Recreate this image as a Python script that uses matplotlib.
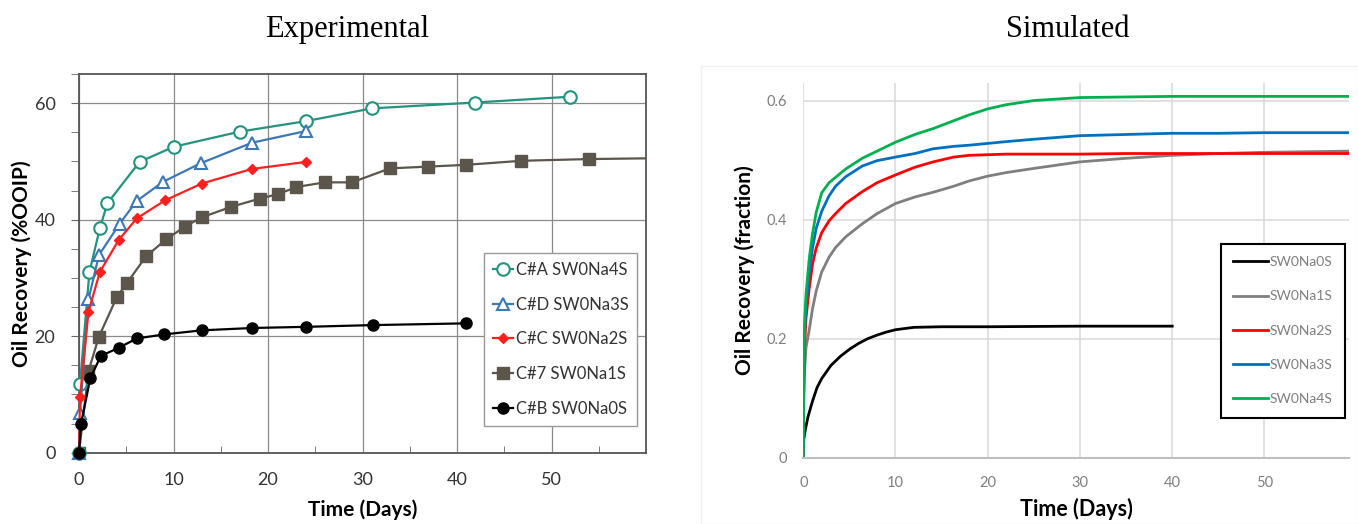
import numpy as np
import matplotlib
matplotlib.use("Agg")
import matplotlib.pyplot as plt
from matplotlib.ticker import MultipleLocator, FixedLocator

plt.rcParams['font.family'] = ['Lato', 'DejaVu Sans']

# Experimental core data (time in days, recovery in %OOIP)
t_a = [0, 0.1, 1.1, 2.2, 3.0, 6.4, 10.0, 17.0, 24.0, 31.0, 41.9, 52.0]
r_a = [0, 11.8, 31.0, 38.5, 42.8, 49.9, 52.5, 55.1, 56.9, 59.1, 60.1, 61.1]

t_d = [0, 0.1, 1.0, 2.1, 4.3, 6.1, 8.9, 12.9, 18.3, 24.0]
r_d = [0, 6.8, 26.3, 33.9, 39.3, 43.2, 46.5, 49.7, 53.2, 55.2]

t_c = [0, 0.1, 1.0, 2.2, 4.2, 6.1, 9.1, 13.0, 18.3, 24.0]
r_c = [0, 9.5, 24.2, 31.0, 36.5, 40.2, 43.3, 46.2, 48.7, 49.9]

t_7 = [0, 1.0, 2.1, 4.0, 5.1, 7.1, 9.2, 11.2, 13.0, 16.1, 19.1, 21.1, 23.0,
       26.0, 28.9, 32.9, 36.9, 40.9, 46.8, 54.0, 64.0]
r_7 = [0, 14.0, 19.9, 26.7, 29.2, 33.7, 36.6, 38.8, 40.4, 42.2, 43.6, 44.4, 45.6,
       46.4, 46.4, 48.8, 49.1, 49.4, 50.1, 50.4, 50.6]

t_b = [0, 0.2, 1.2, 2.3, 4.2, 6.1, 9.0, 13.0, 18.3, 24.0, 31.1, 41.0]
r_b = [0, 4.9, 12.8, 16.6, 18.0, 19.6, 20.3, 21.0, 21.4, 21.6, 21.9, 22.2]

exp_labels = ['C#A SW0Na4S', 'C#D SW0Na3S', 'C#C SW0Na2S', 'C#7 SW0Na1S', 'C#B SW0Na0S']

# Simulated recovery (fraction)
sim_t0 = [0, 0.05, 0.2, 0.5, 1, 1.5, 2, 3, 4, 5, 6, 7, 8, 9, 10, 12, 15, 20, 30, 40]
sim_r0 = [0, 0.03, 0.045, 0.068, 0.095, 0.118, 0.133, 0.155, 0.170, 0.182, 0.192,
          0.200, 0.206, 0.211, 0.215, 0.219, 0.220, 0.220, 0.221, 0.221]

sim_t = [0, 0.05, 0.15, 0.3, 0.65, 1.0, 1.4, 2.0, 2.8, 3.5, 4.6, 6.4, 8.0, 10.0,
         12.1, 14.1, 16.3, 18.0, 20.0, 22.0, 25.0, 30.0, 35.0, 40.0, 45.0, 50.0, 59.2]
sim_r1 = [0, 0.09, 0.15, 0.185, 0.215, 0.250, 0.280, 0.312, 0.337, 0.353, 0.371, 0.393,
          0.410, 0.427, 0.438, 0.446, 0.456, 0.465, 0.473, 0.479, 0.486, 0.497, 0.503,
          0.508, 0.511, 0.513, 0.515]
sim_r2 = [0, 0.12, 0.19, 0.235, 0.285, 0.325, 0.352, 0.378, 0.398, 0.410, 0.427, 0.447,
          0.462, 0.475, 0.488, 0.497, 0.505, 0.508, 0.509, 0.510, 0.510, 0.510, 0.511,
          0.511, 0.511, 0.511, 0.511]
sim_r3 = [0, 0.13, 0.21, 0.255, 0.310, 0.352, 0.385, 0.414, 0.440, 0.456, 0.472, 0.490,
          0.499, 0.505, 0.511, 0.519, 0.523, 0.525, 0.528, 0.531, 0.535, 0.541, 0.543,
          0.545, 0.545, 0.546, 0.546]
sim_r4 = [0, 0.14, 0.23, 0.275, 0.335, 0.376, 0.412, 0.445, 0.462, 0.471, 0.485, 0.503,
          0.515, 0.530, 0.543, 0.553, 0.566, 0.576, 0.586, 0.593, 0.600, 0.605, 0.606,
          0.607, 0.607, 0.607, 0.607]

sim_labels = ['SW0Na0S', 'SW0Na1S', 'SW0Na2S', 'SW0Na3S', 'SW0Na4S']

fig = plt.figure(figsize=(13.58, 5.24), dpi=100)

# ---- left: experimental ----
ax1 = fig.add_axes([0.0582, 0.1361, 0.4175, 0.7227])
teal, blue, red, brown = '#23937f', '#3d78b5', '#ff1f1f', '#5b554b'
ax1.plot(t_a, r_a, color=teal, lw=1.6, marker='o', ms=9, mfc='white', mew=1.5,
         clip_on=False, label=exp_labels[0], zorder=5)
ax1.plot(t_d, r_d, color=blue, lw=1.6, marker='^', ms=9, mfc='white', mew=1.5,
         clip_on=False, label=exp_labels[1], zorder=5)
ax1.plot(t_c, r_c, color=red, lw=1.6, marker='D', ms=5, mfc=red, mec=red,
         clip_on=False, label=exp_labels[2], zorder=5)
ax1.plot(t_7, r_7, color=brown, lw=1.6, marker='s', ms=8, mfc=brown, mec=brown,
         label=exp_labels[3], zorder=4)
ax1.plot(t_b, r_b, color='black', lw=1.6, marker='o', ms=8, mfc='black',
         clip_on=False, label=exp_labels[4], zorder=5)

ax1.set_xlim(0, 60)
ax1.set_ylim(0, 65)
ax1.xaxis.set_major_locator(FixedLocator([0, 10, 20, 30, 40, 50]))
ax1.xaxis.set_minor_locator(FixedLocator([5, 15, 25, 35, 45, 55]))
ax1.yaxis.set_major_locator(FixedLocator([0, 20, 40, 60]))
ax1.yaxis.set_minor_locator(MultipleLocator(5))
ax1.grid(True, which='major', color='#8a8a8a', lw=0.9)
ax1.set_axisbelow(True)
ax1.tick_params(axis='y', which='both', direction='out', length=6, color='#666666',
                labelsize=13, labelcolor='#333333', pad=11)
ax1.tick_params(axis='x', which='minor', direction='in', length=5, color='#666666')
ax1.tick_params(axis='x', which='major', direction='out', length=0,
                labelsize=13, labelcolor='#333333', pad=14)
for s in ax1.spines.values():
    s.set_color('#555555')
    s.set_linewidth(1.3)
ax1.set_xlabel('Time (Days)', fontsize=15, fontweight='bold', labelpad=8)
ax1.set_ylabel('Oil Recovery (%OOIP)', fontsize=15, fontweight='bold', labelpad=2)
leg1 = ax1.legend(loc='lower right', bbox_to_anchor=(0.985, 0.071), fontsize=12,
                  frameon=True, fancybox=False, edgecolor='#999999', framealpha=1,
                  handlelength=1.2, handletextpad=0.15, labelspacing=1.12,
                  borderpad=0.55, borderaxespad=0)
for txt in leg1.get_texts():
    txt.set_color('#333333')

# ---- right: simulated ----
ax2 = fig.add_axes([0.5915, 0.1265, 0.4021, 0.7157])
sim_colors = ['#000000', '#7f7f7f', '#ff0000', '#0070c0', '#00b050']
ax2.plot(sim_t0, sim_r0, color=sim_colors[0], lw=2, label=sim_labels[0])
for r, c, lab in zip([sim_r1, sim_r2, sim_r3, sim_r4], sim_colors[1:], sim_labels[1:]):
    ax2.plot(sim_t, r, color=c, lw=2, label=lab)
ax2.set_xlim(0, 59.2)
ax2.set_ylim(0, 0.63)
ax2.set_xticks([0, 10, 20, 30, 40, 50])
ax2.set_yticks([0, 0.2, 0.4, 0.6])
ax2.set_yticklabels(['0', '0.2', '0.4', '0.6'])
ax2.grid(True, color='#d9d9d9', lw=1.1)
ax2.set_axisbelow(True)
for side in ['left', 'top', 'right']:
    ax2.spines[side].set_visible(False)
ax2.spines['bottom'].set_color('#bfbfbf')
ax2.spines['bottom'].set_linewidth(1.5)
ax2.tick_params(length=0, labelsize=10.5, labelcolor='#7f7f7f', pad=12)
ax2.tick_params(axis='x', pad=13)
ax2.set_xlabel('Time (Days)', fontsize=15.5, fontweight='bold', labelpad=6)
ax2.set_ylabel('Oil Recovery (fraction)', fontsize=15, fontweight='bold', labelpad=8)
leg2 = ax2.legend(loc='lower right', bbox_to_anchor=(0.992, 0.107), fontsize=10,
                  frameon=True, fancybox=False, edgecolor='black', framealpha=1,
                  handlelength=2.5, handletextpad=0.1, labelspacing=1.6,
                  borderpad=0.9, borderaxespad=0)
leg2.get_frame().set_linewidth(1.5)
for txt in leg2.get_texts():
    txt.set_color('#7f7f7f')

# faint chart-area border around the simulated panel
fig.patches.append(plt.Rectangle((0.516, 0.0), 0.484, 0.874, transform=fig.transFigure,
                                 fill=False, edgecolor='#f0f0f0', lw=1))

fig.text(0.2555, 0.944, 'Experimental', family='Liberation Serif', fontsize=22,
         ha='center', va='center')
fig.text(0.7865, 0.944, 'Simulated', family='Liberation Serif', fontsize=22,
         ha='center', va='center')

fig.savefig('out.png', dpi=100)
